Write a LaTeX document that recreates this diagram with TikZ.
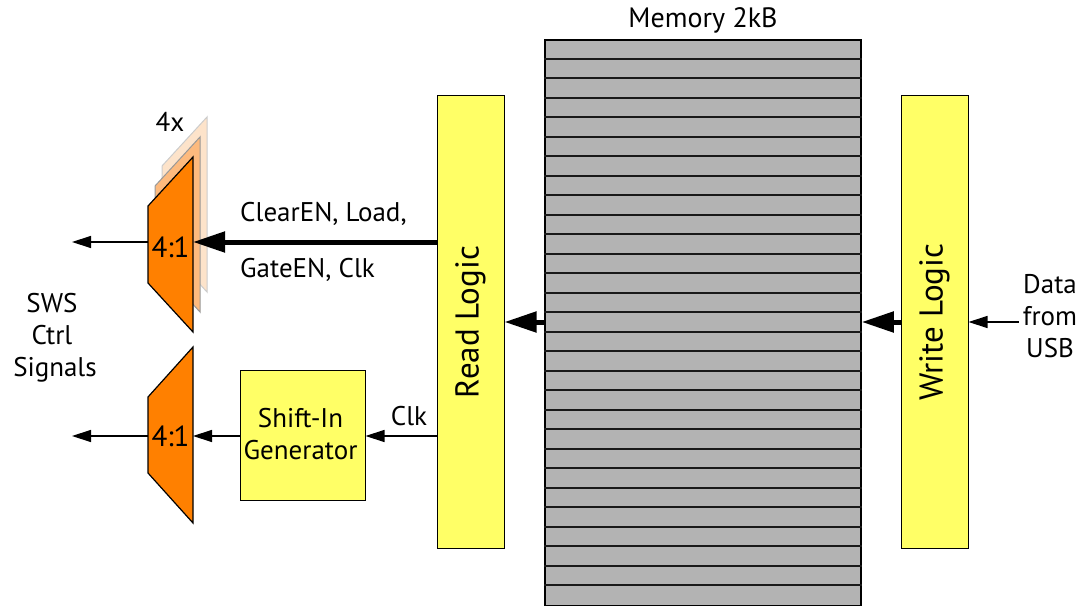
\documentclass[tikz,border=0pt]{standalone}
\usepackage{fontspec}
\setmainfont{PT Sans}
\usepackage{graphicx}
\usetikzlibrary{arrows.meta,calc}
\definecolor{yel}{HTML}{FFFF66}
\definecolor{muxor}{HTML}{FF8000}
\definecolor{muxor2}{HTML}{FDBA7E}
\definecolor{muxor3}{HTML}{FDE3CA}
\definecolor{memgray}{HTML}{B3B3B3}
\begin{document}
\begin{tikzpicture}[x=1pt,y=-1pt,
  every node/.style={font=\fontsize{27}{32}\selectfont, inner sep=0pt},
  bigtext/.style={font=\fontsize{33}{38}\selectfont},
  muxtext/.style={font=\fontsize{29}{32}\selectfont},
  block/.style={draw, line width=1pt, fill=yel},
  thinarrow/.style={line width=1.3pt, -{Triangle[length=19pt,width=12pt]}},
  fatarrow/.style={line width=5pt, -{Triangle[length=32pt,width=20pt]}},
  muxfront/.style={draw, line width=1.2pt, fill=muxor},
  rowline/.style={line width=1.7pt, draw=black!90}]
\useasboundingbox (0,0) rectangle (1077,607);

% memory
\node[draw, line width=1.5pt, fill=memgray, minimum width=316pt, minimum height=565.5pt] (mem) at (703,322.75) {};
\foreach \i in {1,...,28} \draw[rowline] ($(mem.north west)+(0,\i*19.5)$) -- ($(mem.north east)+(0,\i*19.5)$);
\node[anchor=base, font=\fontsize{28}{32}\selectfont] (memlbl) at (703,28) {Memory 2kB};

% logic blocks
\node[block, bigtext, minimum width=67pt, minimum height=452pt] (rl) at (470.5,322) {\rotatebox{90}{Read Logic}};
\node[block, bigtext, minimum width=67pt, minimum height=452pt] (wl) at (934.5,322) {\rotatebox{90}{Write Logic}};
\node[block, minimum width=125pt, minimum height=130pt] (sg) at (302.5,435) {};
\node[anchor=base] (sgt1) at (300.5,427) {Shift-In};
\node[anchor=base] (sgt2) at (300.5,459) {Generator};

% upper mux stack
\draw[line width=1pt, draw=black!20, fill=muxor3] (162,166) -- (207,117) -- (207,292) -- (162,243) -- cycle;
\draw[line width=1pt, draw=black!40, fill=muxor2] (155,186) -- (200,137) -- (200,312) -- (155,263) -- cycle;
\draw[muxfront] (148,206) -- (193,157) -- (193,332) -- (148,283) -- cycle;
\node[anchor=base, muxtext] (m1) at (170.5,257) {4:1};
\node[anchor=base] (four) at (170,132) {4x};
\coordinate (m1r) at (193,242);
\coordinate (m1l) at (148,242);
\coordinate (o1) at (72,242);

% lower mux
\draw[muxfront] (148,397) -- (193,347) -- (193,523) -- (148,473) -- cycle;
\node[anchor=base, muxtext] (m2) at (170.5,446) {4:1};
\coordinate (m2r) at (193,436);
\coordinate (m2l) at (148,436);
\coordinate (o2) at (72,436);

% side texts
\node[anchor=base] (usb1) at (1050,293) {Data};
\node[anchor=base] (usb2) at (1050,325) {from};
\node[anchor=base] (usb3) at (1050,357) {USB};
\node[anchor=base] (sws1) at (52,312) {SWS};
\node[anchor=base] (sws2) at (52,344) {Ctrl};
\node[anchor=base] (sws3) at (55,376) {Signals};

% connectors
\draw[fatarrow] (rl.west |- m1r) -- (m1r);
\draw[thinarrow] (m1l) -- (o1);
\draw[thinarrow] (sg.west |- m2r) -- (m2r);
\draw[thinarrow] (m2l) -- (o2);
\draw[thinarrow] (rl.west |- m2r) -- (sg.east |- m2r);
\draw[fatarrow] (mem.west |- 0,322) -- (rl.east |- 0,322);
\draw[fatarrow] (wl.west |- 0,322) -- (mem.east |- 0,322);
\draw[thinarrow] (usb2.west |- 0,322) ++(-4,0) -- (wl.east |- 0,322);

% labels
\node[anchor=base west] (l1) at (240,222) {ClearEN, Load,};
\node[anchor=base west] (l2) at (240,277) {GateEN, Clk};
\node[anchor=base] (clk) at (409,425) {Clk};
\end{tikzpicture}
\end{document}
